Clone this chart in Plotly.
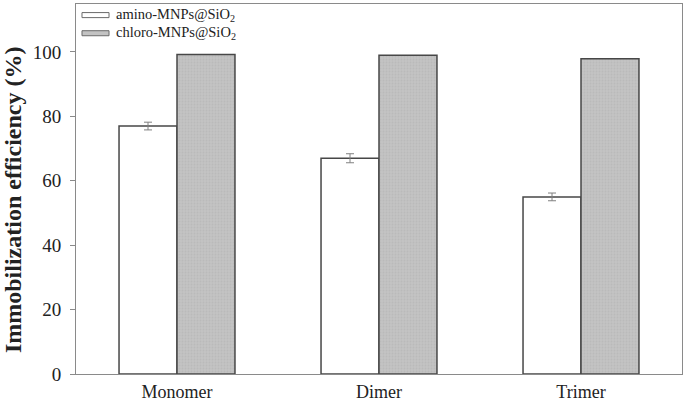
import plotly.graph_objects as go

categories = ["Monomer", "Dimer", "Trimer"]
amino_values = [77.0, 67.0, 55.0]
amino_errors = [1.2, 1.4, 1.2]
chloro_values = [99.2, 99.0, 97.9]
series_names = ["amino-MNPs@SiO<sub>2</sub>", "chloro-MNPs@SiO<sub>2</sub>"]
y_ticks = [0, 20, 40, 60, 80, 100]
y_title = "<b>Immobilization efficiency (%)</b>"

serif = "Liberation Serif, Times New Roman, serif"
outline = "#474747"
chloro_fill = "#c3c3c3"

fig = go.Figure()
fig.add_trace(go.Bar(
    x=categories, y=amino_values, name=series_names[0], showlegend=False,
    marker=dict(color="white", line=dict(color=outline, width=1.5)),
    error_y=dict(type="data", array=amino_errors, color="#808080", thickness=1, width=4),
))
fig.add_trace(go.Bar(
    x=categories, y=chloro_values, name=series_names[1], showlegend=False,
    marker=dict(color=chloro_fill, line=dict(color=outline, width=1.5),
                pattern=dict(shape=".", size=3, solidity=0.3, fgcolor="#b2b2b2", bgcolor=chloro_fill)),
))

# custom legend (wide flat swatches as in the reference)
legend_rows = [0.970, 0.921]
swatch_fills = ["white", chloro_fill]
for name, yc, fill in zip(series_names, legend_rows, swatch_fills):
    fig.add_shape(type="rect", xref="paper", yref="paper",
                  x0=0.0099, x1=0.0545, y0=yc - 0.0068, y1=yc + 0.0068,
                  fillcolor=fill, line=dict(color="#6a6a6a", width=1))
    fig.add_annotation(xref="paper", yref="paper", x=0.063, y=yc, xanchor="left",
                       yanchor="middle", text=name, showarrow=False,
                       font=dict(size=14.5, family=serif, color="#222222"))

# y-axis title (placed slightly below centre, as in the reference)
fig.add_annotation(xref="paper", yref="paper", x=0, y=0.47, xshift=-63,
                   xanchor="center", yanchor="middle", textangle=-90,
                   text=y_title, showarrow=False,
                   font=dict(size=24, family=serif, color="#222222"))

fig.update_layout(
    width=685, height=401,
    margin=dict(l=76, r=3, t=4, b=27, autoexpand=False),
    plot_bgcolor="white", paper_bgcolor="white",
    barmode="group", bargap=0.426, bargroupgap=0,
    font=dict(family=serif, color="#222222"),
    xaxis=dict(range=[-0.5, 2.5], showline=True, linecolor="#8a8a8a", linewidth=1,
               mirror=True, ticks="", ticklabelstandoff=1, automargin=False,
               tickfont=dict(size=18, family=serif)),
    yaxis=dict(range=[0, 114.9], tickvals=y_ticks, showline=True, linecolor="#8a8a8a",
               linewidth=1, mirror=True, ticks="outside", ticklen=5, tickcolor="#8a8a8a",
               ticklabelstandoff=5, showgrid=False, zeroline=False, automargin=False,
               tickfont=dict(size=19, family=serif)),
)

fig.write_html("out.html", post_script="document.body.style.margin='0px';",
               config={"displayModeBar": False})
